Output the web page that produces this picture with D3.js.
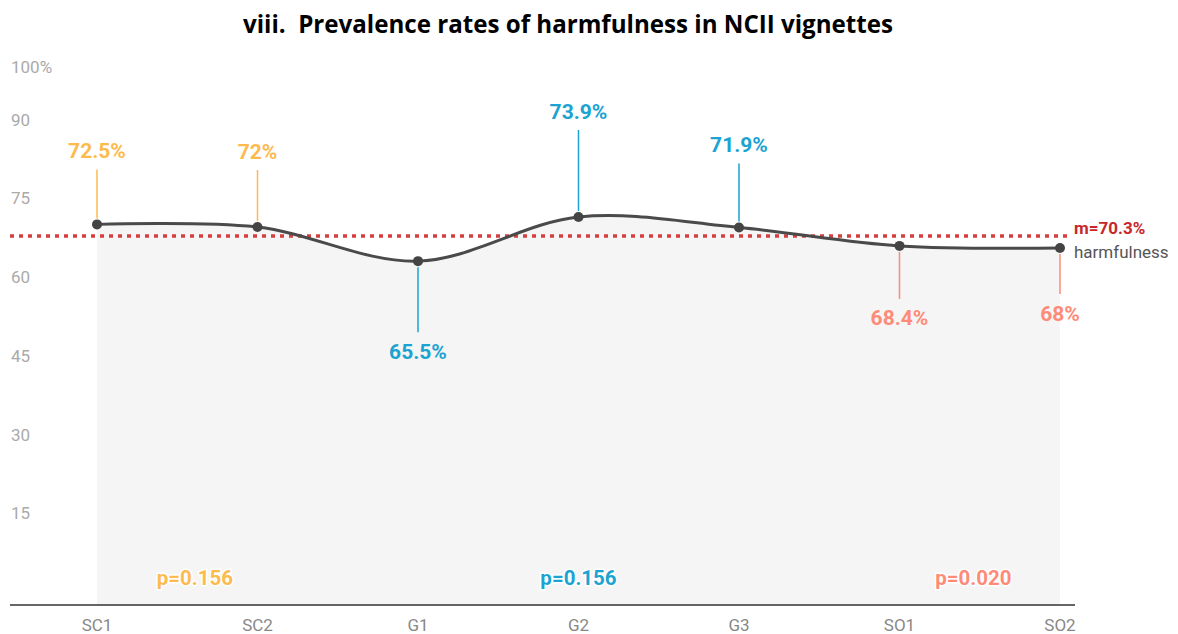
<!DOCTYPE html>
<html>
<head>
<meta charset="utf-8">
<script src="https://cdn.jsdelivr.net/npm/d3@7"></script>
<style>
  html, body { margin: 0; padding: 0; background: #fff; }
  svg { display: block; }
</style>
</head>
<body>
<svg id="chart" width="1178" height="634"></svg>
<script>
// ---- data ----
const categories = ["SC1", "SC2", "G1", "G2", "G3", "SO1", "SO2"];
const harmfulness = [72.5, 72, 65.5, 73.9, 71.9, 68.4, 68];
const valueLabels = ["72.5%", "72%", "65.5%", "73.9%", "71.9%", "68.4%", "68%"];
const groups = ["SC", "SC", "G", "G", "G", "SO", "SO"];
const meanValue = 70.3;
const meanLabel = "m=70.3%";
const seriesName = "harmfulness";
const yTicks = [15, 30, 45, 60, 75, 90, 100];
const pGroups = ["SC", "G", "SO"];
const pLabels = ["p=0.156", "p=0.156", "p=0.020"];
const titleText = "viii.  Prevalence rates of harmfulness in NCII vignettes";

// ---- layout / style (not data) ----
const groupColor = { SC: "#fdba4d", G: "#1ba3d1", SO: "#fe8b78" };
const labelOffset = [-74, -76, 90, -106, -83, 72, 65];   // label centre offset from point (px)
const pIndexPos = [0.61, 3, 5.46];                        // position of p labels along categories

const svg = d3.select("#chart");
const x = d3.scalePoint().domain(categories).range([97, 1060]);
const y = d3.scaleLinear().domain([0, 100]).range([605, 80]);
const xi = i => x(categories[0]) + i * x.step();

// title
svg.append("text")
  .attr("x", 568).attr("y", 33)
  .attr("text-anchor", "middle")
  .attr("font-family", "'Open Sans', 'Liberation Sans', sans-serif")
  .attr("font-weight", 700)
  .attr("font-size", 25)
  .attr("textLength", 650)
  .attr("lengthAdjust", "spacingAndGlyphs")
  .style("white-space", "pre")
  .attr("fill", "#000")
  .text(titleText);

// y tick labels
svg.append("g").selectAll("text").data(yTicks).join("text")
  .attr("x", 11)
  .attr("y", d => y(d) - 7)
  .attr("font-family", "Roboto, sans-serif")
  .attr("font-size", 17)
  .attr("fill", "#aaaaaa")
  .text(d => d === 100 ? "100%" : d);

const pts = harmfulness.map((v, i) => ({ c: categories[i], v, i }));
const curve = d3.curveCatmullRom.alpha(0.5);

// area
const area = d3.area()
  .x(d => x(d.c)).y0(y(0)).y1(d => y(d.v))
  .curve(curve);
svg.append("path").datum(pts)
  .attr("d", area)
  .attr("fill", "#f5f5f5");

// mean line
svg.append("line")
  .attr("x1", 10).attr("x2", 1072)
  .attr("y1", y(meanValue)).attr("y2", y(meanValue))
  .attr("stroke", "#d43f3f")
  .attr("stroke-width", 3.5)
  .attr("stroke-dasharray", "4,5");

// series line
const line = d3.line().x(d => x(d.c)).y(d => y(d.v)).curve(curve);
svg.append("path").datum(pts)
  .attr("d", line)
  .attr("fill", "none")
  .attr("stroke", "#4a4a4a")
  .attr("stroke-width", 3);

// annotation connectors
svg.append("g").selectAll("line").data(pts).join("line")
  .attr("x1", d => x(d.c)).attr("x2", d => x(d.c))
  .attr("y1", d => y(d.v) + Math.sign(labelOffset[d.i]) * 6)
  .attr("y2", d => y(d.v) + labelOffset[d.i] - Math.sign(labelOffset[d.i]) * 19)
  .attr("stroke", d => groupColor[groups[d.i]])
  .attr("stroke-width", 1.5);

// dots
svg.append("g").selectAll("circle").data(pts).join("circle")
  .attr("cx", d => x(d.c)).attr("cy", d => y(d.v))
  .attr("r", 5)
  .attr("fill", "#444");

// value labels
svg.append("g").selectAll("text").data(pts).join("text")
  .attr("x", d => x(d.c))
  .attr("y", d => y(d.v) + labelOffset[d.i])
  .attr("dy", "0.36em")
  .attr("text-anchor", "middle")
  .attr("font-family", "Roboto, sans-serif")
  .attr("font-weight", 700)
  .attr("font-size", 21)
  .attr("fill", d => groupColor[groups[d.i]])
  .text(d => valueLabels[d.i]);

// mean label & series label
svg.append("text")
  .attr("x", 1074).attr("y", y(meanValue) - 8).attr("dy", "0.36em")
  .attr("font-family", "Roboto, sans-serif").attr("font-weight", 700)
  .attr("font-size", 17).attr("fill", "#c8262b")
  .text(meanLabel);
svg.append("text")
  .attr("x", 1074).attr("y", y(harmfulness[harmfulness.length - 1]) + 3.5).attr("dy", "0.36em")
  .attr("font-family", "Roboto, sans-serif")
  .attr("font-size", 17).attr("fill", "#555")
  .text(seriesName);

// p labels
svg.append("g").selectAll("text").data(pLabels).join("text")
  .attr("x", (d, i) => xi(pIndexPos[i]))
  .attr("y", y(0) - 27).attr("dy", "0.36em")
  .attr("text-anchor", "middle")
  .attr("font-family", "Roboto, sans-serif").attr("font-weight", 700)
  .attr("font-size", 20.5)
  .attr("fill", (d, i) => groupColor[pGroups[i]])
  .attr("stroke", "#fff").attr("stroke-width", 3).attr("paint-order", "stroke")
  .text(d => d);

// x axis
svg.append("line")
  .attr("x1", 10).attr("x2", 1075)
  .attr("y1", y(0)).attr("y2", y(0))
  .attr("stroke", "#333").attr("stroke-width", 1.5);
svg.append("g").selectAll("text").data(categories).join("text")
  .attr("x", d => x(d)).attr("y", y(0) + 20).attr("dy", "0.36em")
  .attr("text-anchor", "middle")
  .attr("font-family", "Roboto, sans-serif")
  .attr("font-size", 17).attr("fill", "#888")
  .text(d => d);
</script>
</body>
</html>
